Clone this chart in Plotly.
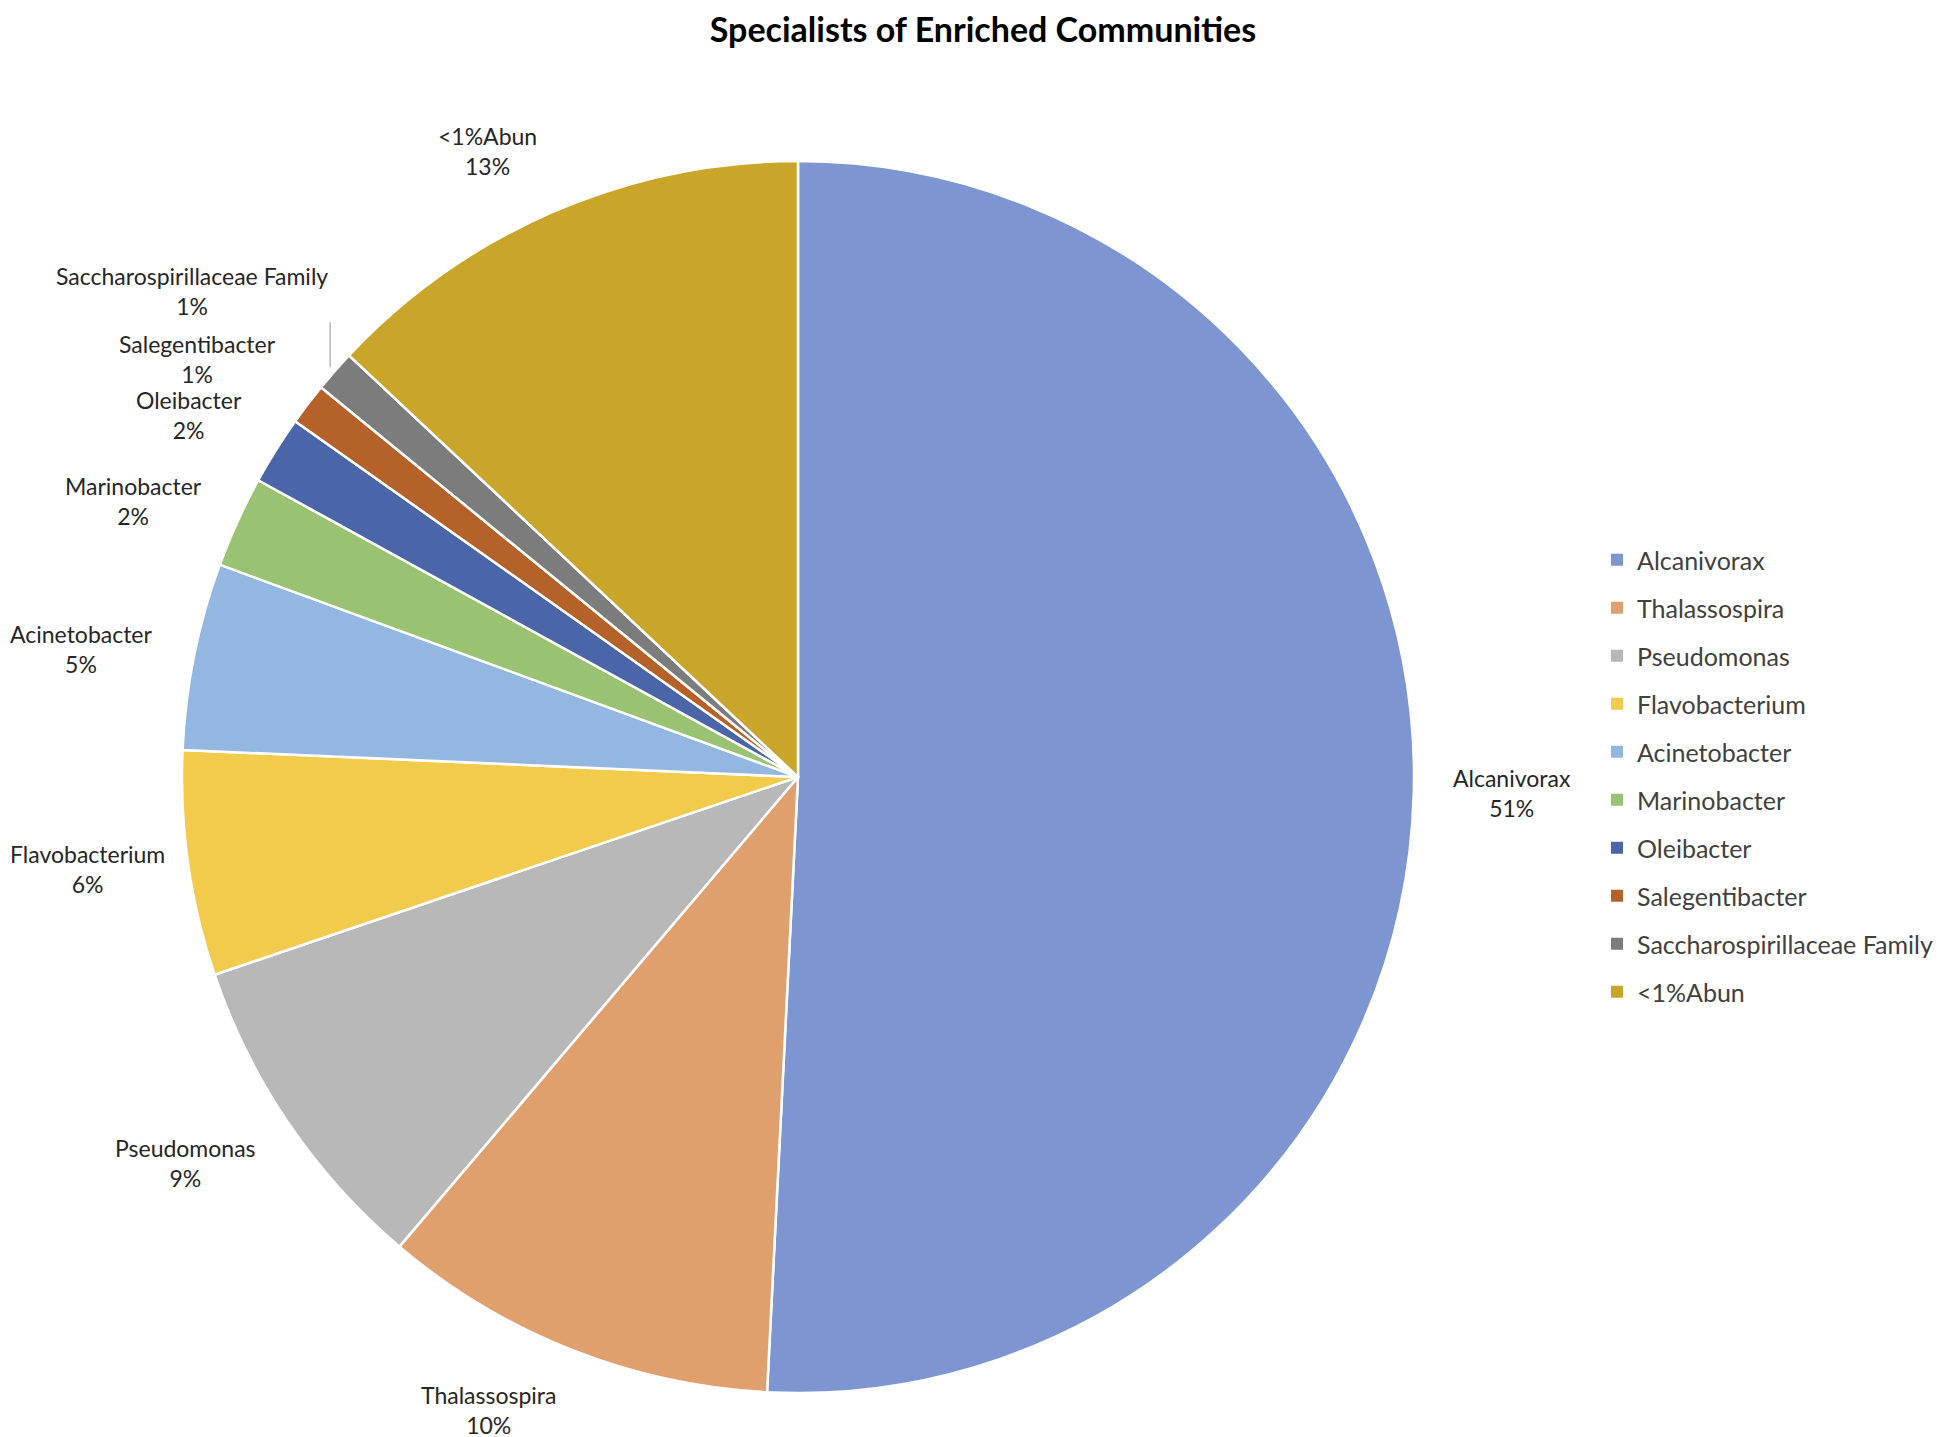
import math
import plotly.graph_objects as go

labels = ["Alcanivorax", "Thalassospira", "Pseudomonas", "Flavobacterium",
          "Acinetobacter", "Marinobacter", "Oleibacter", "Salegentibacter",
          "Saccharospirillaceae Family", "<1%Abun"]
values = [50.8, 10.4, 8.6, 5.9, 4.9, 2.4, 1.8, 1.1, 1.1, 13.0]
colors = ["#7d96d1", "#e0a06e", "#b8b8b8", "#f2cb4c", "#94b7e1",
          "#99c273", "#4a66a8", "#b4622a", "#7c7c7c", "#c9a52a"]

W, H = 1950, 1437
FONT = "Lato, Open Sans, sans-serif"
LBL_SIZE = 23

# pie geometry (figure pixels)
CX, CY, R = 790, 769, 616
dom_x = [(CX - R) / W, (CX + R) / W]
dom_y = [1 - (CY + R) / H, 1 - (CY - R) / H]

fig = go.Figure()
fig.add_trace(go.Pie(
    labels=labels, values=values, sort=False, direction="clockwise", rotation=0,
    marker=dict(colors=colors, line=dict(color="white", width=2.5)),
    textinfo="none", hoverinfo="label+percent",
    domain=dict(x=dom_x, y=dom_y), showlegend=False,
))

# legend entries
for lab, col in zip(labels, colors):
    fig.add_trace(go.Scatter(
        x=[None], y=[None], mode="markers", name=lab, legendgroup=lab,
        marker=dict(symbol="square", size=12, color=col),
        hoverinfo="skip",
    ))

# data labels, Excel-like "best fit" placement computed from slice angles
total = sum(values)
GAP = 37
HALF_H = 31
STACK = 60
TOL = 12
boxes = []
cum = 0.0
for lab, v in zip(labels, values):
    mid = (cum + v / 2) / total * 2 * math.pi
    cum += v
    sx, sy = math.sin(mid), -math.cos(mid)
    px, py = CX + (R + GAP) * sx, CY + (R + GAP) * sy
    t = max(0.0, min(1.0, (abs(sy) - 0.35) / 0.3))
    cy_box = py + math.copysign(0.85 * HALF_H * t, sy)
    if sx < -0.3:
        xa = "right"
    elif sx > 0.3:
        xa = "left"
    else:
        xa = "center"
    est_w = len(lab) * LBL_SIZE * 0.5
    if xa == "right" and px - est_w < 2:
        xa, px = "left", 0
    boxes.append(dict(lab=lab, pct=round(v / total * 100), sx=sx, sy=sy,
                      px=px, cy=cy_box, xa=xa, moved=False))

# resolve overlaps on the upper-left side (labels stacked going up)
prev = None
for b in boxes:
    if b["sx"] < -0.3:
        if prev is not None and b["cy"] < prev["cy"]:
            overlap = (b["cy"] + HALF_H) - (prev["cy"] - HALF_H)
            if overlap > TOL:
                b["cy"] = prev["cy"] - STACK
                b["moved"] = True
        prev = b

for b in boxes:
    text = f"{b['lab']}<br>{b['pct']}%"
    font = dict(family=FONT, size=LBL_SIZE, color="#262626")
    if b["moved"]:
        hx = CX + (R + 6) * b["sx"]
        hy = CY + (R + 6) * b["sy"]
        tx = hx
        ty = b["cy"] + HALF_H - 8
        fig.add_annotation(
            x=hx / W, y=1 - hy / H, xref="paper", yref="paper",
            ax=tx - hx, ay=ty - hy, axref="pixel", ayref="pixel",
            text=text, showarrow=True, arrowhead=0, arrowwidth=1.2, arrowcolor="#a6a6a6",
            xanchor="right", yanchor="bottom", align="center",
            font=font, standoff=0, startstandoff=0,
        )
    else:
        fig.add_annotation(
            x=b["px"] / W, y=1 - b["cy"] / H, xref="paper", yref="paper",
            text=text, showarrow=False, xanchor=b["xa"], yanchor="middle", align="center",
            font=font,
        )

fig.update_layout(
    width=W, height=H,
    margin=dict(l=0, r=0, t=0, b=0),
    paper_bgcolor="white", plot_bgcolor="white",
    xaxis=dict(visible=False), yaxis=dict(visible=False),
    title=dict(text="<b>Specialists of Enriched Communities</b>", x=975 / W, xanchor="center",
               y=1 - 22 / H, yanchor="middle", yref="container",
               font=dict(family=FONT, size=34, color="black")),
    legend=dict(x=1589 / W, xanchor="left", y=1 - 529 / H, yanchor="top",
                font=dict(family=FONT, size=25, color="#404040"),
                itemwidth=30, tracegroupgap=12.5, bgcolor="rgba(0,0,0,0)"),
)

fig.write_html("out.html")
